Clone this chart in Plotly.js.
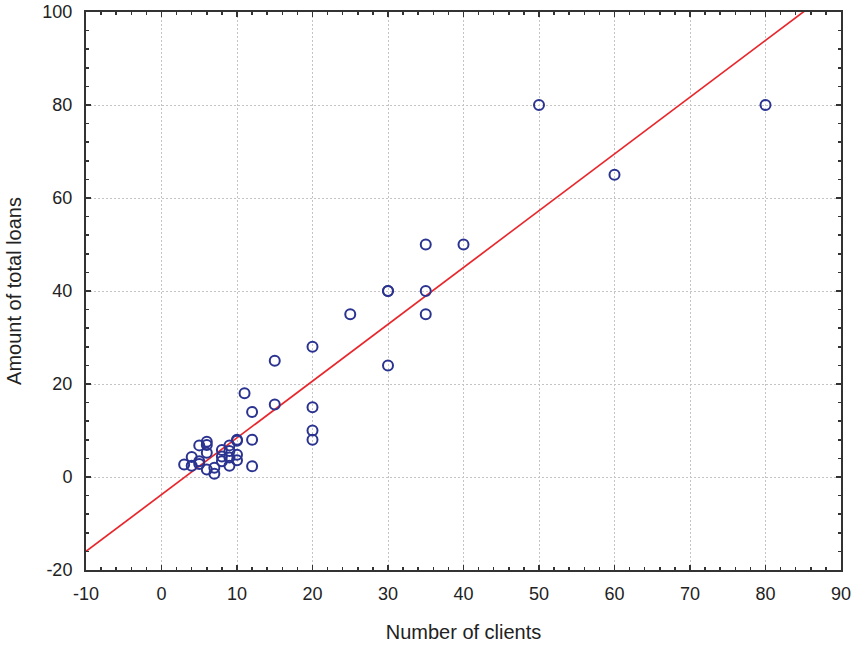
<!DOCTYPE html>
<html>
<head>
<meta charset="utf-8">
<script src="https://cdn.plot.ly/plotly-3.0.1.min.js"></script>
<style>html,body{margin:0;padding:0;background:#fff;}#chart{width:855px;height:650px;}</style>
</head>
<body>
<div id="chart"></div>
<script>
// Number of clients
var clients = [50, 80, 60, 35, 40, 30, 30, 35, 25, 35, 30, 15, 20, 11, 15, 20, 12, 20, 20, 12, 12, 10,
  3, 4, 4, 5, 5, 5, 6, 6, 6, 6, 7, 7, 8, 8, 8, 9, 9, 9, 9, 10, 10, 10];
// Amount of total loans
var loans = [80, 80, 65, 50, 50, 40, 40, 40, 35, 35, 24, 25, 28, 18, 15.6, 15, 14, 10, 8, 8, 2.3, 8,
  2.7, 4.3, 2.4, 6.8, 3.4, 2.8, 7.6, 6.9, 5.2, 1.6, 2.0, 0.7, 5.8, 4.4, 3.4, 6.8, 5.6, 4.2, 2.4, 7.8, 4.8, 3.6];
// Fitted regression line
var fitIntercept = -3.79;
var fitSlope = 1.221;
var fitX = [-10, 90];
var fitY = fitX.map(function (x) { return fitIntercept + fitSlope * x; });

var xTicks = [-10, 0, 10, 20, 30, 40, 50, 60, 70, 80, 90];
var yTicks = [-20, 0, 20, 40, 60, 80, 100];

var FONT = 'Liberation Sans, Arial, sans-serif';
var axisCommon = {
  showline: true, linecolor: '#333', linewidth: 2, mirror: 'ticks',
  ticks: 'inside', ticklen: 5, tickwidth: 1.5, tickcolor: '#333',
  showgrid: true, gridcolor: '#c4c4c4', griddash: '2px,2px', gridwidth: 1,
  zeroline: false,
  tickfont: {family: FONT, size: 18, color: '#222'}
};

var traces = [
  {x: fitX, y: fitY, mode: 'lines', type: 'scatter',
   line: {color: '#e8262b', width: 1.7}, hoverinfo: 'skip'},
  {x: clients, y: loans, mode: 'markers', type: 'scatter',
   marker: {symbol: 'circle-open', size: 10, color: '#2b3390', line: {width: 2, color: '#2b3390'}}}
];

var layout = {
  width: 855, height: 650,
  margin: {l: 86, r: 14, t: 12, b: 80},
  paper_bgcolor: '#fff', plot_bgcolor: '#fff',
  showlegend: false,
  xaxis: Object.assign({}, axisCommon, {
    range: [-10, 90], tickvals: xTicks, ticktext: xTicks.map(String),
    ticklabelstandoff: 6,
    minor: {dtick: 2, tick0: 0, ticks: 'inside', ticklen: 3, tickcolor: '#333', showgrid: false},
    title: {text: 'Number of clients', standoff: 22,
            font: {family: FONT, size: 20, color: '#222'}}
  }),
  yaxis: Object.assign({}, axisCommon, {
    range: [-20, 100], tickvals: yTicks, ticktext: yTicks.map(String),
    ticklabelstandoff: 8,
    minor: {dtick: 4, tick0: 0, ticks: 'inside', ticklen: 3, tickcolor: '#333', showgrid: false},
    title: {text: 'Amount of total loans', standoff: 15,
            font: {family: FONT, size: 20, color: '#222'}}
  })
};

Plotly.newPlot('chart', traces, layout, {displayModeBar: false, staticPlot: true});
</script>
</body>
</html>
